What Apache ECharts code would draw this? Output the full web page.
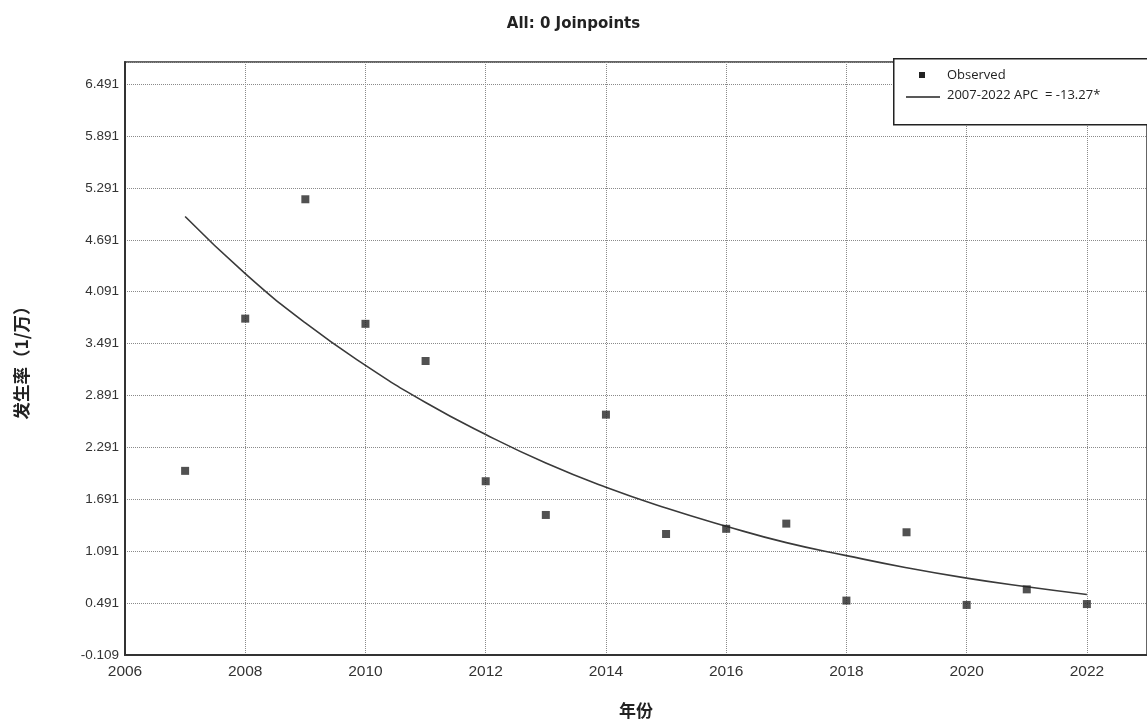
<!DOCTYPE html>
<html>
<head>
<meta charset="utf-8">
<script src="https://cdn.jsdelivr.net/npm/echarts@6/dist/echarts.min.js"></script>
<style>html,body{margin:0;padding:0;background:#fff;}#c{width:1147px;height:724px;}</style>
</head>
<body>
<div id="c"></div>
<script>
const years = [2007,2008,2009,2010,2011,2012,2013,2014,2015,2016,2017,2018,2019,2020,2021,2022];
const observed = [2.02,3.78,5.16,3.72,3.29,1.90,1.51,2.67,1.29,1.35,1.41,0.52,1.31,0.47,0.65,0.48];
const fitted = [4.96,4.30,3.73,3.24,2.81,2.44,2.11,1.83,1.59,1.38,1.19,1.04,0.90,0.78,0.68,0.59];
const titleText = 'All: 0 Joinpoints';
const yName = '发生率（1/万）';
const xName = '年份';
const legendObserved = 'Observed';
const legendFit = '2007-2022 APC  = -13.27*';

const chart = echarts.init(document.getElementById('c'));
const labelFont = '"Liberation Sans", Arial, sans-serif';
chart.setOption({
  backgroundColor: '#ffffff',
  animation: false,
  title: {
    text: titleText, left: 'center', top: 12,
    textStyle: {fontFamily: '"DejaVu Sans", sans-serif', fontWeight: 'bold', fontSize: 15, color: '#222'}
  },
  grid: {left: 125, right: -6, top: 62, bottom: 69, show: true, borderColor: '#333', borderWidth: 1.5, backgroundColor: 'transparent'},
  xAxis: {
    type: 'value', min: 2006, max: 2023, interval: 2,
    name: xName, nameLocation: 'middle', nameGap: 47,
    nameTextStyle: {fontFamily: '"Noto Sans CJK SC", sans-serif', fontWeight: 'bold', fontSize: 17, color: '#222'},
    axisLine: {show: true, onZero: false, lineStyle: {color: '#333', width: 2}},
    axisTick: {show: false},
    axisLabel: {color: '#333', fontSize: 15.5, fontFamily: labelFont, margin: 9, showMaxLabel: false,
      formatter: v => String(v)},
    splitLine: {show: true, lineStyle: {color: '#8a8a8a', type: 'dotted', width: 1}}
  },
  yAxis: {
    type: 'value', min: -0.109, max: 6.747, interval: 0.6,
    name: yName, nameLocation: 'middle', nameGap: 95, nameRotate: 90,
    nameTextStyle: {fontFamily: '"Noto Sans CJK SC", sans-serif', fontWeight: 'bold', fontSize: 17.5, color: '#222'},
    axisLine: {show: true, onZero: false, lineStyle: {color: '#333', width: 2}},
    axisTick: {show: false},
    axisLabel: {color: '#333', fontSize: 13.5, fontFamily: labelFont, margin: 6, showMaxLabel: false,
      formatter: v => v.toFixed(3)},
    splitLine: {show: true, lineStyle: {color: '#8a8a8a', type: 'dotted', width: 1}}
  },
  series: [
    {
      name: legendFit, type: 'line', smooth: true, symbol: 'none',
      lineStyle: {color: '#3a3a3a', width: 1.6},
      data: years.map((y, i) => [y, fitted[i]]), z: 2
    },
    {
      name: legendObserved, type: 'scatter', symbol: 'rect', symbolSize: 8,
      itemStyle: {color: '#262626'},
      data: years.map((y, i) => [y, observed[i]]), z: 3
    }
  ],
  graphic: [
    {type: 'rect', left: 893, top: 58, shape: {width: 270, height: 66}, style: {fill: '#fff', stroke: '#222', lineWidth: 1.5}, z: 100},
    {type: 'rect', left: 919, top: 72, shape: {width: 6, height: 6}, style: {fill: '#222'}, z: 101},
    {type: 'line', shape: {x1: 906, y1: 97, x2: 940, y2: 97}, style: {stroke: '#222', lineWidth: 1.6}, z: 101},
    {type: 'text', left: 947, top: 69, style: {text: legendObserved, fontSize: 13, fontFamily: '"Open Sans", sans-serif', fill: '#222'}, z: 101},
    {type: 'text', left: 947, top: 89, style: {text: legendFit, fontSize: 13, fontFamily: '"Open Sans", sans-serif', fill: '#222'}, z: 101}
  ]
});
</script>
</body>
</html>
